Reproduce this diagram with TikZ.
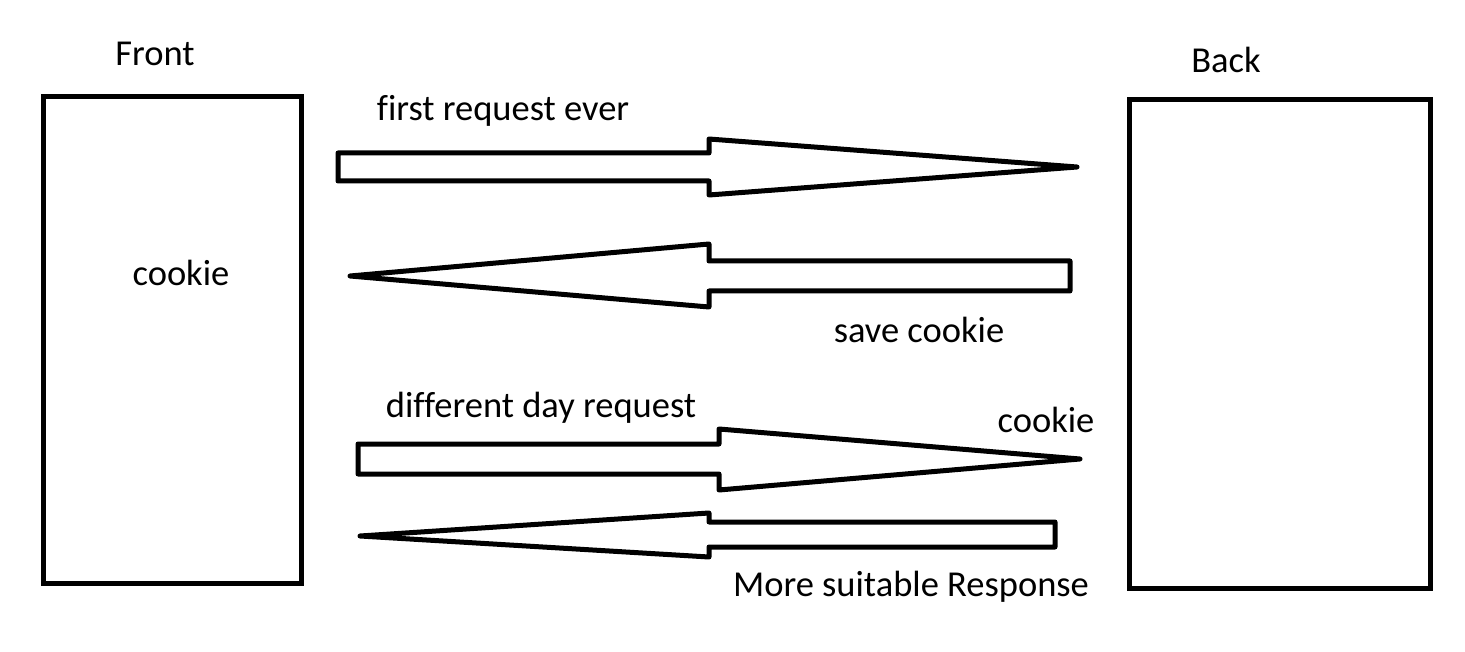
\documentclass[tikz,border=0pt]{standalone}
\usepackage{fontspec}
\setmainfont[Ligatures=NoCommon]{Carlito}
\begin{document}
\begin{tikzpicture}[x=1pt,y=-1pt,
  box/.style={draw=black,line width=5pt},
  fatarrow/.style={draw=black,line width=5pt,line join=round,fill=white},
  lbl/.style={inner sep=0pt,font=\fontsize{36.5}{42}\selectfont}]
\useasboundingbox (0,0) rectangle (1465,652);
\fill[white] (0,0) rectangle (1465,652);
% boxes
\draw[box] (43,97) rectangle (301,583);
\draw[box] (1129,100) rectangle (1430,588);
% arrow 1 (right)
\draw[fatarrow] (338,153) -- (709,153) -- (709,139) -- (1077,167) -- (709,195) -- (709,181) -- (338,181) -- cycle;
% arrow 2 (left)
\draw[fatarrow] (1070,261) -- (709,261) -- (709,244) -- (350,276) -- (709,307) -- (709,291) -- (1070,291) -- cycle;
% arrow 3 (right)
\draw[fatarrow] (358,444) -- (719,444) -- (719,429) -- (1080,459) -- (719,490) -- (719,474) -- (358,474) -- cycle;
% arrow 4 (left)
\draw[fatarrow] (1055,522) -- (709,522) -- (709,513) -- (360,536) -- (709,557) -- (709,547) -- (1055,547) -- cycle;
% labels
\node[lbl] (front) at (155,54) {Front};
\node[lbl] (back) at (1226,60) {Back};
\node[lbl] (fcookie) at (181,273) {cookie};
\node[lbl] (l1) at (503,111) {first request ever};
\node[lbl] (l2) at (919,330) {save cookie};
\node[lbl] (l3) at (541,408) {different day request};
\node[lbl] (l4) at (1046,420) {cookie};
\node[lbl] (l5) at (911,587) {More suitable Response};
\end{tikzpicture}
\end{document}
